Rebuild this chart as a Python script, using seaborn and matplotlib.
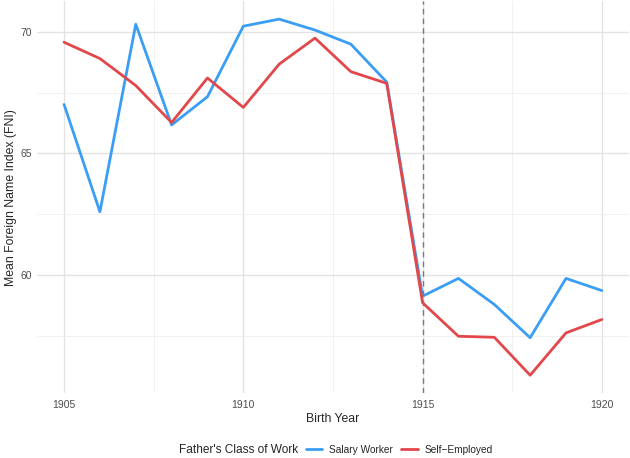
import pandas as pd
import seaborn as sns
import matplotlib.pyplot as plt
from matplotlib.ticker import MultipleLocator

# Data
years = list(range(1905, 1921))
salary_worker = [67.01, 62.60, 70.31, 66.17, 67.33, 70.23, 70.52, 70.07,
                 69.49, 67.93, 59.13, 59.86, 58.79, 57.42, 59.86, 59.36]
self_employed = [69.57, 68.90, 67.79, 66.27, 68.10, 66.89, 68.67, 69.74,
                 68.36, 67.88, 58.86, 57.48, 57.44, 55.88, 57.62, 58.17]
groups = ['Salary Worker', 'Self\u2212Employed']
colors = ['#3B9EF5', '#E2474B']

df = pd.DataFrame({
    'year': years * 2,
    'fni': salary_worker + self_employed,
    'cls': [groups[0]] * len(years) + [groups[1]] * len(years),
})

sns.set_style('white')
plt.rcParams['font.family'] = ['Liberation Sans', 'DejaVu Sans']

fig = plt.figure(figsize=(6.3, 4.58), dpi=100)
ax = fig.add_axes([0.059, 0.142, 0.939, 0.855])

sns.lineplot(data=df, x='year', y='fni', hue='cls', hue_order=groups,
             palette=colors, linewidth=2, ax=ax, legend=False)

ax.axvline(1915, color='#7a7a7a', linestyle=(0, (4, 3)), linewidth=1)

# ggplot-like minimal grid
ax.set_xlim(1904.25, 1920.75)
ax.set_ylim(55.15, 71.25)
ax.xaxis.set_major_locator(MultipleLocator(5))
ax.xaxis.set_minor_locator(MultipleLocator(2.5))
ax.yaxis.set_major_locator(MultipleLocator(5))
ax.yaxis.set_minor_locator(MultipleLocator(2.5))
ax.grid(which='major', color='#e3e3e3', linewidth=1)
ax.grid(which='minor', color='#efefef', linewidth=0.6)
ax.set_axisbelow(True)
for s in ax.spines.values():
    s.set_visible(False)
ax.tick_params(which='both', length=0, labelsize=7.5, labelcolor='#4d4d4d')
ax.tick_params(axis='x', pad=5)
ax.tick_params(axis='y', pad=3.5)

ax.set_xlabel('Birth Year', fontsize=8.8, labelpad=2)
ax.set_ylabel('Mean Foreign Name Index (FNI)', fontsize=8.8, labelpad=3)

# legend at the bottom with inline title
handles = [plt.Line2D([], [], color=c, linewidth=2) for c in colors]
fig.text(0.473, 0.0175, "Father's Class of Work", fontsize=8.6, ha='right', va='center')
fig.legend(handles, groups, ncol=2, loc='center left', bbox_to_anchor=(0.486, 0.0175),
           frameon=False, fontsize=7.3, handlelength=1.6, handletextpad=0.7,
           columnspacing=0.8, borderpad=0, borderaxespad=0)

plt.savefig('out.png', dpi=100)
